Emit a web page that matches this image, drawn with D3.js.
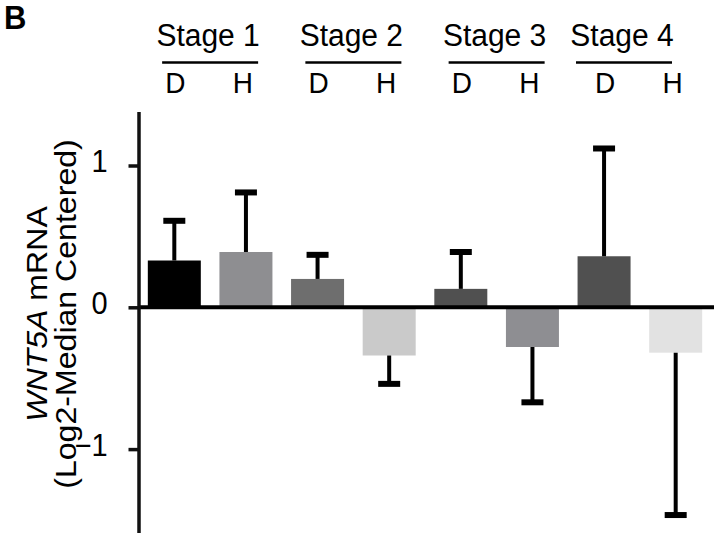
<!DOCTYPE html>
<html>
<head>
<meta charset="utf-8">
<script src="https://cdn.jsdelivr.net/npm/d3@7/dist/d3.min.js"></script>
<style>
  html, body { margin: 0; padding: 0; background: #fff; }
  svg { display: block; font-family: "Liberation Sans", Arial, Helvetica, sans-serif; }
</style>
</head>
<body>
<svg id="chart" width="714" height="533"></svg>
<script>
// ---- data ----
const stages = ["Stage 1", "Stage 2", "Stage 3", "Stage 4"];
const groups = ["D", "H"];
const categories = ["S1-D", "S1-H", "S2-D", "S2-H", "S3-D", "S3-H", "S4-D", "S4-H"];
const means = [0.33, 0.39, 0.20, -0.34, 0.13, -0.28, 0.36, -0.32];
const errors = [0.28, 0.42, 0.17, 0.20, 0.26, 0.39, 0.76, 1.145];
const barColors = ["#000000", "#8e8e91", "#6e6e6e", "#cacaca", "#505050", "#8e8e92", "#505050", "#e2e2e2"];
const yTicks = [-1, 0, 1];

// ---- layout ----
const W = 714, H = 533;
const svg = d3.select("#chart");
const SY = 1.07; // vertical stretch of the original figure's lettering

const x = d3.scaleBand()
  .domain(categories)
  .range([138.5, 711.5])
  .paddingInner(0.26)
  .paddingOuter(0.13);

const y = d3.scaleLinear()
  .domain([-1.6, 1.38])
  .range([307.3 + 1.6 * 141.8, 307.3 - 1.38 * 141.8]);

function stretchedText(parent, tx, ty, str, size, anchor) {
  return parent.append("text")
    .attr("transform", `translate(${tx},${ty}) scale(1,${SY})`)
    .attr("text-anchor", anchor || "middle")
    .attr("font-size", size)
    .text(str);
}

// Panel letter
svg.append("text")
  .attr("transform", `translate(4,29) scale(1,${SY})`)
  .attr("font-size", 31).attr("font-weight", "bold")
  .text("B");

// Bars
svg.append("g").selectAll("rect")
  .data(categories)
  .join("rect")
  .attr("x", d => x(d))
  .attr("width", x.bandwidth())
  .attr("y", (d, i) => Math.min(y(0), y(means[i])))
  .attr("height", (d, i) => Math.abs(y(means[i]) - y(0)))
  .attr("fill", (d, i) => barColors[i]);

// Error bars
const eb = svg.append("g");
categories.forEach((c, i) => {
  const cx = x(c) + x.bandwidth() / 2;
  const m = means[i];
  const end = m >= 0 ? m + errors[i] : m - errors[i];
  eb.append("line")
    .attr("x1", cx).attr("x2", cx)
    .attr("y1", y(m)).attr("y2", y(end))
    .attr("stroke", "#000").attr("stroke-width", 4);
  eb.append("line")
    .attr("x1", cx - 11).attr("x2", cx + 11)
    .attr("y1", y(end)).attr("y2", y(end))
    .attr("stroke", "#000").attr("stroke-width", 6);
});

// Zero line
svg.append("line")
  .attr("x1", 138).attr("x2", W)
  .attr("y1", y(0)).attr("y2", y(0))
  .attr("stroke", "#000").attr("stroke-width", 4);

// Y axis
const yAxis = d3.axisLeft(y)
  .tickValues(yTicks)
  .tickFormat(d3.format("d"))
  .tickSize(10)
  .tickSizeOuter(0)
  .tickPadding(21);

const ga = svg.append("g")
  .attr("transform", "translate(138.5,0)")
  .call(yAxis);
ga.select(".domain").attr("stroke", "#111").attr("stroke-width", 3.5);
ga.selectAll(".tick line").attr("stroke", "#111").attr("stroke-width", 3.5);
ga.selectAll(".tick text")
  .attr("font-size", 29)
  .attr("font-family", "Liberation Sans, Arial, sans-serif")
  .attr("fill", "#000")
  .attr("dy", null)
  .attr("y", null)
  .attr("transform", `translate(0,6) scale(1,${SY})`);

// Y axis title
const title = svg.append("text")
  .attr("transform", `translate(0,314) rotate(-90) scale(${SY},1)`)
  .attr("text-anchor", "middle")
  .attr("font-size", 30);
const l1 = title.append("tspan").attr("x", 0).attr("y", 47);
l1.append("tspan").attr("font-style", "italic").text("WNT5A");
l1.append("tspan").text(" mRNA");
title.append("tspan").attr("x", 0).attr("y", 76).text("(Log2-Median Centered)");

// Header: stages, lines, D/H labels
const header = svg.append("g");
stages.forEach((s, gi) => {
  const dCat = categories[gi * 2], hCat = categories[gi * 2 + 1];
  const dC = x(dCat) + x.bandwidth() / 2;
  const hC = x(hCat) + x.bandwidth() / 2;
  const mid = Math.min((dC + hC) / 2, 672 - 48);
  header.append("line")
    .attr("x1", mid - 48).attr("x2", mid + 48)
    .attr("y1", 62.5).attr("y2", 62.5)
    .attr("stroke", "#000").attr("stroke-width", 2.5);
  stretchedText(header, mid - 2, 46, s, 30);
  stretchedText(header, dC + 1, 93, groups[0], 28);
  stretchedText(header, hC - 3, 93, groups[1], 28);
});
</script>
</body>
</html>
